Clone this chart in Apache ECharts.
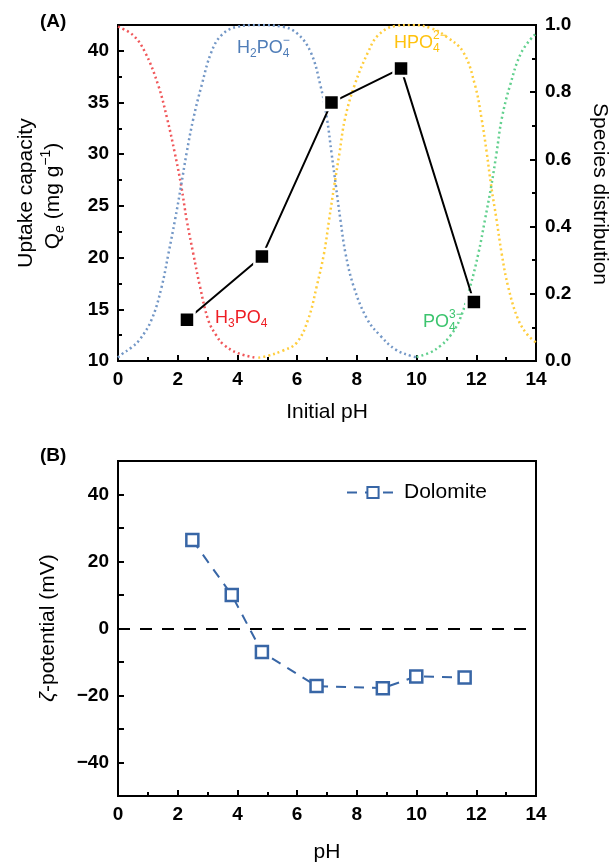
<!DOCTYPE html>
<html>
<head>
<meta charset="utf-8">
<script src="https://cdn.jsdelivr.net/npm/echarts@6/dist/echarts.min.js"></script>
<style>
  html, body { margin: 0; padding: 0; background: #fff; }
  #main { width: 613px; height: 864px; }
</style>
</head>
<body>
<div id="main"></div>
<script>
// ---- panel (A): uptake capacity vs initial pH ----
var uptakePH = [2.31, 4.82, 7.15, 9.48, 11.92];
var uptakeQe = [14.0, 20.1, 35.0, 38.3, 15.7];

// species distribution, [pH, fraction]
var h3po4 = [[0, 0.995], [0.5, 0.97], [0.9, 0.92], [1.35, 0.82], [1.65, 0.72], [1.9, 0.62],
  [2.12, 0.52], [2.3, 0.42], [2.52, 0.32], [2.75, 0.22], [3.03, 0.12], [3.3, 0.075],
  [3.52, 0.05], [4.0, 0.024], [4.6, 0.01]];
var h2po4 = [[0, 0.01], [0.12, 0.02], [0.45, 0.04], [0.73, 0.064], [1.13, 0.124], [1.46, 0.22],
  [1.69, 0.32], [1.91, 0.42], [2.11, 0.52], [2.3, 0.62], [2.52, 0.72], [2.8, 0.82],
  [3.13, 0.92], [3.47, 0.97], [4.0, 0.995], [4.7, 1.0], [5.5, 0.995], [6.0, 0.975],
  [6.45, 0.92], [6.78, 0.82], [7.0, 0.72], [7.15, 0.62], [7.3, 0.52], [7.45, 0.42],
  [7.62, 0.32], [7.9, 0.22], [8.35, 0.124], [8.8, 0.074], [9.3, 0.034], [9.85, 0.014], [10.0, 0.012]];
var hpo4 = [[4.7, 0.01], [5.0, 0.015], [5.5, 0.03], [5.98, 0.054], [6.37, 0.124], [6.65, 0.22],
  [6.9, 0.32], [7.07, 0.42], [7.24, 0.52], [7.42, 0.62], [7.6, 0.72], [7.92, 0.82],
  [8.38, 0.92], [8.72, 0.97], [9.28, 0.997], [9.9, 1.0], [10.5, 0.99], [11.0, 0.965],
  [11.56, 0.92], [11.96, 0.82], [12.18, 0.72], [12.35, 0.62], [12.5, 0.52], [12.68, 0.42],
  [12.85, 0.32], [13.07, 0.22], [13.4, 0.124], [13.7, 0.08], [14.0, 0.055]];
var po4 = [[10.0, 0.012], [10.45, 0.025], [10.8, 0.045], [11.12, 0.074], [11.45, 0.124],
  [11.79, 0.22], [12.07, 0.32], [12.29, 0.42], [12.5, 0.52], [12.68, 0.62], [12.85, 0.72],
  [13.13, 0.82], [13.52, 0.92], [14.0, 0.975]];

// ---- panel (B): zeta potential of dolomite ----
var zetaPH = [2.49, 3.81, 4.82, 6.65, 8.87, 9.99, 11.61];
var zetaMV = [26.4, 10.0, -7.0, -17.2, -17.8, -14.3, -14.6];

var FONT = '"Liberation Sans", Arial, sans-serif';
var BLUE = '#3866a6';

var chart = echarts.init(document.getElementById('main'));
var ctx = document.createElement('canvas').getContext('2d');

function pairs(xs, ys) {
  return xs.map(function (x, i) { return [x, ys[i]]; });
}

function minus(v) {
  return v < 0 ? '\u2212' + (-v) : '' + v;
}

function axisBase(extra) {
  var a = {
    type: 'value',
    axisLine: { show: true, onZero: false, lineStyle: { color: '#000', width: 2 } },
    axisTick: { show: true, inside: true, length: 6, lineStyle: { color: '#000', width: 2 } },
    minorTick: { show: true, splitNumber: 2, length: 4, lineStyle: { color: '#000', width: 2 } },
    splitLine: { show: false },
    minorSplitLine: { show: false },
    axisLabel: { color: '#000', fontWeight: 'bold', fontSize: 19, fontFamily: FONT, margin: 9 }
  };
  for (var k in extra) a[k] = extra[k];
  return a;
}

// chemical formula with stacked sub/superscripts
function chem(x, y, segs, color) {
  var big = 18, small = 12, cx = x, kids = [];
  segs.forEach(function (s) {
    if (typeof s === 'string') {
      ctx.font = big + 'px ' + FONT;
      kids.push({ type: 'text', x: cx, y: y, style: { text: s, fontSize: big, fontFamily: FONT, fill: color, textAlign: 'left', textVerticalAlign: 'middle' } });
      cx += ctx.measureText(s).width;
    } else {
      ctx.font = small + 'px ' + FONT;
      var w = 0;
      if (s[0]) {
        kids.push({ type: 'text', x: cx, y: y + 6, style: { text: s[0], fontSize: small, fontFamily: FONT, fill: color, textAlign: 'left', textVerticalAlign: 'middle' } });
        w = ctx.measureText(s[0]).width;
      }
      if (s[1]) {
        kids.push({ type: 'text', x: cx, y: y - 7, style: { text: s[1], fontSize: small, fontFamily: FONT, fill: color, textAlign: 'left', textVerticalAlign: 'middle' } });
        w = Math.max(w, ctx.measureText(s[1]).width);
      }
      cx += w;
    }
  });
  return { type: 'group', silent: true, children: kids };
}

function title(x, y, text, rot, rich) {
  return {
    type: 'text', x: x, y: y, rotation: rot || 0, silent: true,
    style: {
      text: text, fontSize: 21, fontFamily: FONT, fill: '#000',
      textAlign: 'center', textVerticalAlign: 'middle', rich: rich
    }
  };
}

var richQ = {
  n: { fontSize: 21, fontFamily: FONT, lineHeight: 28 },
  e: { fontSize: 14, fontFamily: FONT, fontStyle: 'italic', lineHeight: 14, verticalAlign: 'bottom' },
  s: { fontSize: 14, fontFamily: FONT, lineHeight: 14, verticalAlign: 'top' }
};
var richZ = {
  n: { fontSize: 21, fontFamily: FONT },
  z: { fontSize: 21, fontFamily: FONT, fontStyle: 'italic' }
};

function dotted(name, data, color) {
  return {
    name: name, type: 'line', xAxisIndex: 0, yAxisIndex: 1, data: data,
    smooth: 0.4, showSymbol: false, symbol: 'none', silent: true, z: 1,
    lineStyle: { color: color, width: 2.5, type: [2, 3] }
  };
}

chart.setOption({
  animation: false,
  grid: [
    { left: 118, top: 25, width: 418, height: 336, show: true, borderColor: '#000', borderWidth: 2 },
    { left: 118, top: 461, width: 418, height: 335, show: true, borderColor: '#000', borderWidth: 2 }
  ],
  legend: {
    data: ['Dolomite'], left: 346, top: 482, padding: 0,
    itemWidth: 52, itemHeight: 14, itemGap: 5,
    textStyle: { fontSize: 21, fontFamily: FONT, color: '#000' }
  },
  xAxis: [
    axisBase({ gridIndex: 0, min: 0, max: 14, interval: 2 }),
    axisBase({ gridIndex: 1, min: 0, max: 14, interval: 2 })
  ],
  yAxis: [
    axisBase({ gridIndex: 0, min: 10, max: 42.5, interval: 5,
      axisLabel: { color: '#000', fontWeight: 'bold', fontSize: 19, fontFamily: FONT, margin: 9,
        formatter: function (v) { return v <= 40 ? '' + v : ''; } } }),
    axisBase({ gridIndex: 0, position: 'right', min: 0, max: 1, interval: 0.2,
      axisLabel: { color: '#000', fontWeight: 'bold', fontSize: 19, fontFamily: FONT, margin: 9,
        formatter: function (v) { return v.toFixed(1); } } }),
    axisBase({ gridIndex: 1, min: -50, max: 50, interval: 10,
      minorTick: { show: false },
      axisLabel: { color: '#000', fontWeight: 'bold', fontSize: 19, fontFamily: FONT, margin: 9,
        formatter: function (v) { return (v % 20 === 0 && Math.abs(v) <= 40) ? minus(v) : ''; } } })
  ],
  series: [
    dotted('H3PO4', h3po4, '#f0575a'),
    dotted('H2PO4', h2po4, '#7397c6'),
    dotted('HPO4', hpo4, '#ffcd3c'),
    dotted('PO4', po4, '#62d08e'),
    {
      name: 'Uptake', type: 'line', xAxisIndex: 0, yAxisIndex: 0, z: 3,
      data: pairs(uptakePH, uptakeQe),
      symbol: 'rect', symbolSize: 15,
      lineStyle: { color: '#000', width: 2 },
      itemStyle: { color: '#000', borderColor: '#fff', borderWidth: 2.5 }
    },
    {
      name: 'Dolomite', type: 'line', xAxisIndex: 1, yAxisIndex: 2, z: 3,
      data: pairs(zetaPH, zetaMV),
      symbol: 'rect', symbolSize: 12,
      lineStyle: { color: BLUE, width: 2, type: [10, 8] },
      itemStyle: { color: '#fff', borderColor: BLUE, borderWidth: 2.5 },
      markLine: {
        silent: true, symbol: 'none', label: { show: false },
        lineStyle: { color: '#000', width: 2, type: [12, 10] },
        data: [{ yAxis: 0 }]
      }
    }
  ],
  graphic: [
    { type: 'text', x: 40, y: 22, silent: true, style: { text: '(A)', fontSize: 19, fontWeight: 'bold', fontFamily: FONT, fill: '#000', textAlign: 'left', textVerticalAlign: 'middle' } },
    { type: 'text', x: 40, y: 456, silent: true, style: { text: '(B)', fontSize: 19, fontWeight: 'bold', fontFamily: FONT, fill: '#000', textAlign: 'left', textVerticalAlign: 'middle' } },
    title(26, 193, 'Uptake capacity', Math.PI / 2),
    title(53, 196, '{n|Q}{e|e}{n| (mg g}{s|\u22121}{n|)}', Math.PI / 2, richQ),
    title(600, 194, 'Species distribution', -Math.PI / 2),
    title(327, 412, 'Initial pH'),
    title(48, 628, '{z|\u03b6}{n|-potential (mV)}', Math.PI / 2, richZ),
    title(327, 852, 'pH'),
    chem(237, 48, ['H', ['2'], 'PO', ['4', '\u2212']], '#4f7db8'),
    chem(394, 43, ['HPO', ['4', '2\u2212']], '#ffc20e'),
    chem(215, 318, ['H', ['3'], 'PO', ['4']], '#ee1d23'),
    chem(423, 322, ['PO', ['4', '3\u2212']], '#3cc46e')
  ]
});
</script>
</body>
</html>
